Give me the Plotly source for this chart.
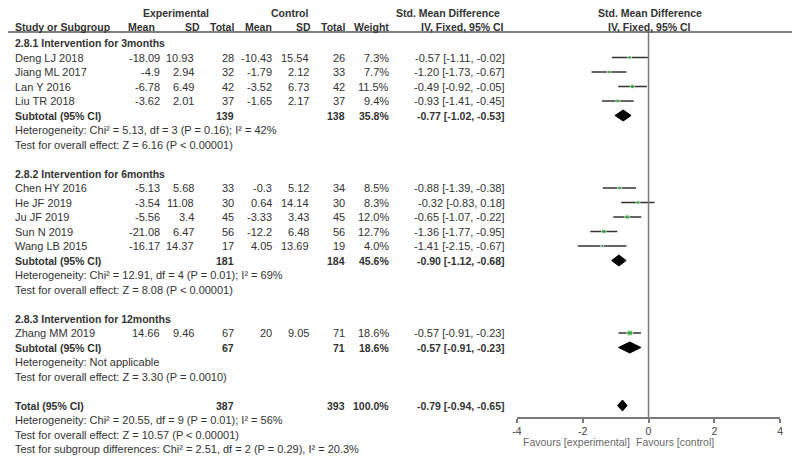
import plotly.graph_objects as go

# -------------------------
# Data
# -------------------------
studies = ["Deng LJ 2018", "Jiang ML 2017", "Lan Y 2016", "Liu TR 2018",
           "Chen HY 2016", "He JF 2019", "Ju JF 2019", "Sun N 2019", "Wang LB 2015",
           "Zhang MM 2019"]
group_of = [0, 0, 0, 0, 1, 1, 1, 1, 1, 2]
exp_mean = [-18.09, -4.9, -6.78, -3.62, -5.13, -3.54, -5.56, -21.08, -16.17, 14.66]
exp_sd = [10.93, 2.94, 6.49, 2.01, 5.68, 11.08, 3.4, 6.47, 14.37, 9.46]
exp_n = [28, 32, 42, 37, 33, 30, 45, 56, 17, 67]
ctl_mean = [-10.43, -1.79, -3.52, -1.65, -0.3, 0.64, -3.33, -12.2, 4.05, 20]
ctl_sd = [15.54, 2.12, 6.73, 2.17, 5.12, 14.14, 3.43, 6.48, 13.69, 9.05]
ctl_n = [26, 33, 42, 37, 34, 30, 45, 56, 19, 71]
weight = [7.3, 7.7, 11.5, 9.4, 8.5, 8.3, 12.0, 12.7, 4.0, 18.6]
smd = [-0.57, -1.20, -0.49, -0.93, -0.88, -0.32, -0.65, -1.36, -1.41, -0.57]
smd_lo = [-1.11, -1.73, -0.92, -1.41, -1.39, -0.83, -1.07, -1.77, -2.15, -0.91]
smd_hi = [-0.02, -0.67, -0.05, -0.45, -0.38, 0.18, -0.22, -0.95, -0.67, -0.23]

groups = ["2.8.1 Intervention for 3months", "2.8.2 Intervention for 6months",
          "2.8.3 Intervention for 12months"]
sub_exp_n = [139, 181, 67]
sub_ctl_n = [138, 184, 71]
sub_weight = [35.8, 45.6, 18.6]
sub_smd = [-0.77, -0.90, -0.57]
sub_lo = [-1.02, -1.12, -0.91]
sub_hi = [-0.53, -0.68, -0.23]
sub_het = ["Heterogeneity: Chi² = 5.13, df = 3 (P = 0.16); I² = 42%",
           "Heterogeneity: Chi² = 12.91, df = 4 (P = 0.01); I² = 69%",
           "Heterogeneity: Not applicable"]
sub_test = ["Test for overall effect: Z = 6.16 (P < 0.00001)",
            "Test for overall effect: Z = 8.08 (P < 0.00001)",
            "Test for overall effect: Z = 3.30 (P = 0.0010)"]

total_exp_n, total_ctl_n, total_weight = 387, 393, 100.0
total_smd, total_lo, total_hi = -0.79, -0.94, -0.65
total_lines = ["Heterogeneity: Chi² = 20.55, df = 9 (P = 0.01); I² = 56%",
               "Test for overall effect: Z = 10.57 (P < 0.00001)",
               "Test for subgroup differences: Chi² = 2.51, df = 2 (P = 0.29), I² = 20.3%"]

axis_ticks = [-4, -2, 0, 2, 4]
axis_labels = ["-4", "-2", "0", "2", "4"]

# -------------------------
# Layout helpers (page pixel -> paper / row units)
# the page body has an 8px margin, so the figure is 8px smaller each way
# -------------------------
OFF = 8
W, H = 800 - OFF, 457 - OFF
ROW0, ROWH = 43, 14.5          # page pixel y of row 0 and row spacing
FONT = "Liberation Sans, Arial, sans-serif"
TXT = "#333333"
FS = 11

def px(x):
    return (x - OFF) / W

def row_of(ypx):
    return (ypx - ROW0) / ROWH

annotations = []

def txt(xp, row, s, anchor="right", bold=False, color=TXT, size=FS):
    annotations.append(dict(
        x=px(xp), y=row, xref="paper", yref="y", text=f"<b>{s}</b>" if bold else s,
        showarrow=False, xanchor=anchor, yanchor="middle", borderpad=0, borderwidth=0,
        font=dict(family=FONT, size=size, color=color)))

# column right edges in page pixels
C_NAME, C_EM, C_ESD, C_EN, C_CM, C_CSD, C_CN, C_W, C_SMD = 10, 157, 191, 231, 270, 307, 343, 388, 505

# -------------------------
# Headers
# -------------------------
HB = 10.5
txt(173, row_of(13), "Experimental", anchor="center", bold=True, size=HB)
txt(287, row_of(13), "Control", anchor="center", bold=True, size=HB)
txt(447, row_of(13), "Std. Mean Difference", anchor="center", bold=True, size=HB)
txt(651, row_of(13), "Std. Mean Difference", anchor="center", bold=True, size=HB)
txt(C_NAME, row_of(27), "Study or Subgroup", anchor="left", bold=True, size=HB)
for xp, s in [(C_EM - 6, "Mean"), (C_ESD + 6, "SD"), (C_EN, "Total"), (C_CM, "Mean"),
              (C_CSD + 2, "SD"), (C_CN, "Total"), (C_W, "Weight")]:
    txt(xp, row_of(27), s, bold=True, size=HB)
txt(462, row_of(27), "IV, Fixed, 95% CI", anchor="center", bold=True, size=HB)
txt(651, row_of(27), "IV, Fixed, 95% CI", anchor="center", bold=True, size=HB)

# -------------------------
# Rows
# -------------------------
study_rows, sub_rows = [], []
row = 0
for g, gname in enumerate(groups):
    txt(C_NAME, row, gname, anchor="left", bold=True, size=HB)
    row += 1
    for i, s in enumerate(studies):
        if group_of[i] != g:
            continue
        study_rows.append(row)
        txt(C_NAME, row, s, anchor="left")
        txt(C_EM, row, f"{exp_mean[i]:g}")
        txt(C_ESD, row, f"{exp_sd[i]:g}")
        txt(C_EN, row, str(exp_n[i]))
        txt(C_CM, row, f"{ctl_mean[i]:g}")
        txt(C_CSD, row, f"{ctl_sd[i]:g}")
        txt(C_CN, row, str(ctl_n[i]))
        txt(C_W, row, f"{weight[i]:.1f}%")
        txt(C_SMD, row, f"{smd[i]:.2f} [{smd_lo[i]:.2f}, {smd_hi[i]:.2f}]")
        row += 1
    sub_rows.append(row)
    txt(C_NAME, row, "Subtotal (95% CI)", anchor="left", bold=True, size=HB)
    txt(C_EN, row, str(sub_exp_n[g]), bold=True, size=HB)
    txt(C_CN, row, str(sub_ctl_n[g]), bold=True, size=HB)
    txt(C_W, row, f"{sub_weight[g]:.1f}%", bold=True, size=HB)
    txt(C_SMD, row, f"{sub_smd[g]:.2f} [{sub_lo[g]:.2f}, {sub_hi[g]:.2f}]", bold=True, size=HB)
    txt(C_NAME, row + 1, sub_het[g], anchor="left")
    txt(C_NAME, row + 2, sub_test[g], anchor="left")
    row += 4

total_row = row
txt(C_NAME, total_row, "Total (95% CI)", anchor="left", bold=True, size=HB)
txt(C_EN, total_row, str(total_exp_n), bold=True, size=HB)
txt(C_CN, total_row, str(total_ctl_n), bold=True, size=HB)
txt(C_W, total_row, f"{total_weight:.1f}%", bold=True, size=HB)
txt(C_SMD, total_row, f"{total_smd:.2f} [{total_lo:.2f}, {total_hi:.2f}]", bold=True, size=HB)
for k, s in enumerate(total_lines):
    txt(C_NAME, total_row + 1 + k, s, anchor="left")

txt(631, row_of(442), "Favours [experimental]", anchor="right", color="#6a6a6a", size=10.5)
txt(637, row_of(442), "Favours [control]", anchor="left", color="#6a6a6a", size=10.5)

# -------------------------
# Forest plot traces
# -------------------------
fig = go.Figure()

ci_x, ci_y = [], []
for lo, hi, r in zip(smd_lo, smd_hi, study_rows):
    ci_x += [lo, hi, None]
    ci_y += [r, r, None]
fig.add_trace(go.Scatter(x=ci_x, y=ci_y, mode="lines",
                         line=dict(color="#333333", width=1.4), hoverinfo="skip"))
fig.add_trace(go.Scatter(x=smd, y=study_rows, mode="markers",
                         marker=dict(symbol="square", color="#33bb33",
                                     size=[2 + w * 0.2 for w in weight]),
                         hoverinfo="skip"))

dh = 0.38
for est, lo, hi, r in zip(sub_smd + [total_smd], sub_lo + [total_lo], sub_hi + [total_hi],
                          sub_rows + [total_row]):
    fig.add_trace(go.Scatter(x=[lo, est, hi, est, lo], y=[r, r - dh, r, r + dh, r],
                             mode="lines", fill="toself", fillcolor="black",
                             line=dict(color="black", width=1), hoverinfo="skip"))

axis_px = 418
fig.add_shape(type="line", xref="x", yref="y", x0=0, x1=0,
              y0=row_of(32), y1=row_of(axis_px), line=dict(color="#7a7a7a", width=1.5))
fig.add_shape(type="line", xref="paper", yref="y", x0=px(3), x1=px(797),
              y0=row_of(32), y1=row_of(32), line=dict(color="#555555", width=1.5))

axis_pos = (457 - axis_px) / H
common_x = dict(domain=[px(517), px(783)], range=[-4, 4], anchor="free", position=axis_pos,
                showgrid=False, zeroline=False, tickmode="array", tickvals=axis_ticks,
                ticktext=axis_labels, ticklen=4, tickcolor="#7a7a7a", tickwidth=1.5)

fig.update_layout(
    width=W, height=H,
    margin=dict(l=0, r=0, t=0, b=0),
    paper_bgcolor="white", plot_bgcolor="white",
    showlegend=False,
    annotations=annotations,
    xaxis=dict(**common_x, showline=True, linecolor="#7a7a7a", linewidth=1.5,
               ticks="outside",
               tickfont=dict(family=FONT, size=10.5, color="#444444")),
    # second copy of the axis so the ticks cross the axis line
    xaxis2=dict(**common_x, overlaying="x", ticks="inside", showticklabels=False,
                showline=False),
    yaxis=dict(range=[row_of(457), row_of(OFF)], domain=[0, 1], visible=False,
               showgrid=False, zeroline=False),
)

fig.write_html("out.html")
